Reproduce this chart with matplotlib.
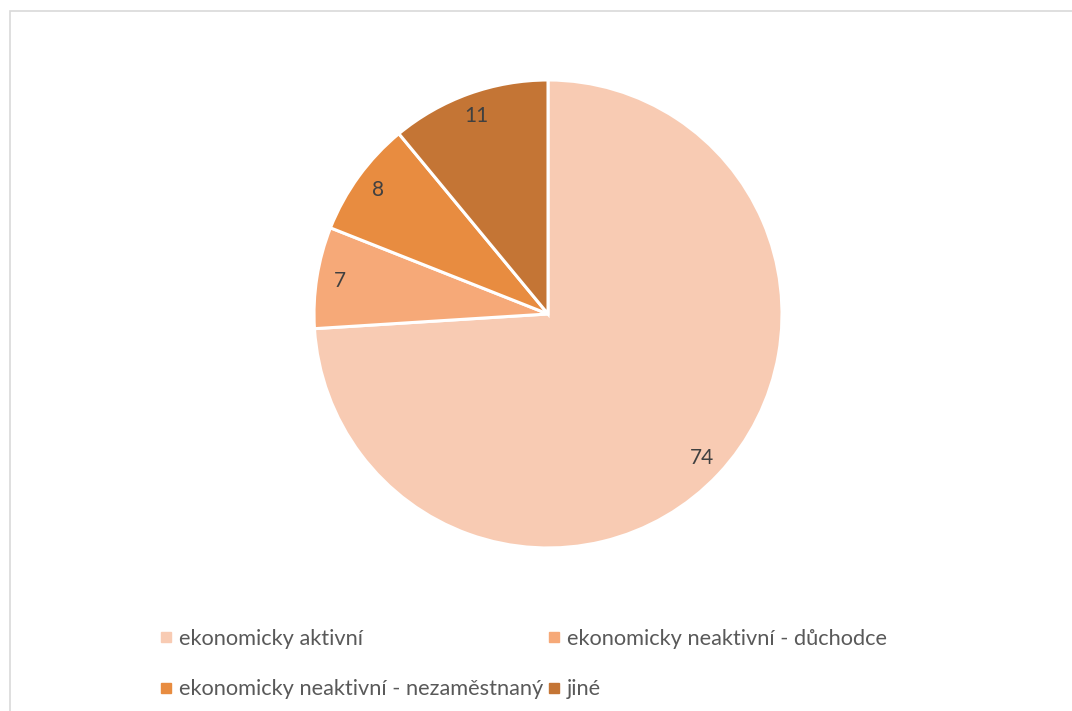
import matplotlib.pyplot as plt
from matplotlib.lines import Line2D
from matplotlib.patches import Rectangle

plt.rcParams['font.family'] = ['Lato', 'DejaVu Sans']

# data
categories = ["ekonomicky aktivní", "ekonomicky neaktivní - důchodce",
              "ekonomicky neaktivní - nezaměstnaný", "jiné"]
values = [74, 7, 8, 11]
colors = ['#F8CBB3', '#F6A978', '#E88C40', '#C47535']

fig = plt.figure(figsize=(10.72, 7.11), dpi=100)

# chart area border (only left/top visible in the crop)
fig.patches.append(Rectangle((10 / 1072, -0.05), 1.2, 1 - 11 / 711 + 0.05,
                             transform=fig.transFigure, fill=False,
                             edgecolor='#D9D9D9', linewidth=1.2))

ax = fig.add_axes([0.2929, 0.2293, 0.4366, 0.6582])
wedges, texts, autotexts = ax.pie(
    values, colors=colors, startangle=90, counterclock=False,
    autopct=lambda p: '%d' % round(p), pctdistance=0.9,
    wedgeprops=dict(edgecolor='white', linewidth=2.2),
    textprops=dict(color='#404040', fontsize=15))
ax.set_xlim(-1, 1)
ax.set_ylim(-1, 1)
ax.set_aspect('equal')

# legend, Excel order row-wise -> matplotlib fills column-wise
order = [0, 2, 1, 3]
handles = [Line2D([], [], marker='s', linestyle='none', markersize=7,
                  markerfacecolor=colors[i], markeredgecolor=colors[i]) for i in order]
labels = [categories[i] for i in order]
fig.legend(handles, labels, ncol=2, loc='center', bbox_to_anchor=(0.488, 0.066),
           frameon=False, fontsize=15.7, labelcolor='#595959',
           handlelength=0.6, handletextpad=0.3, columnspacing=0.2, labelspacing=1.4)

fig.savefig('out.png', dpi=100)
